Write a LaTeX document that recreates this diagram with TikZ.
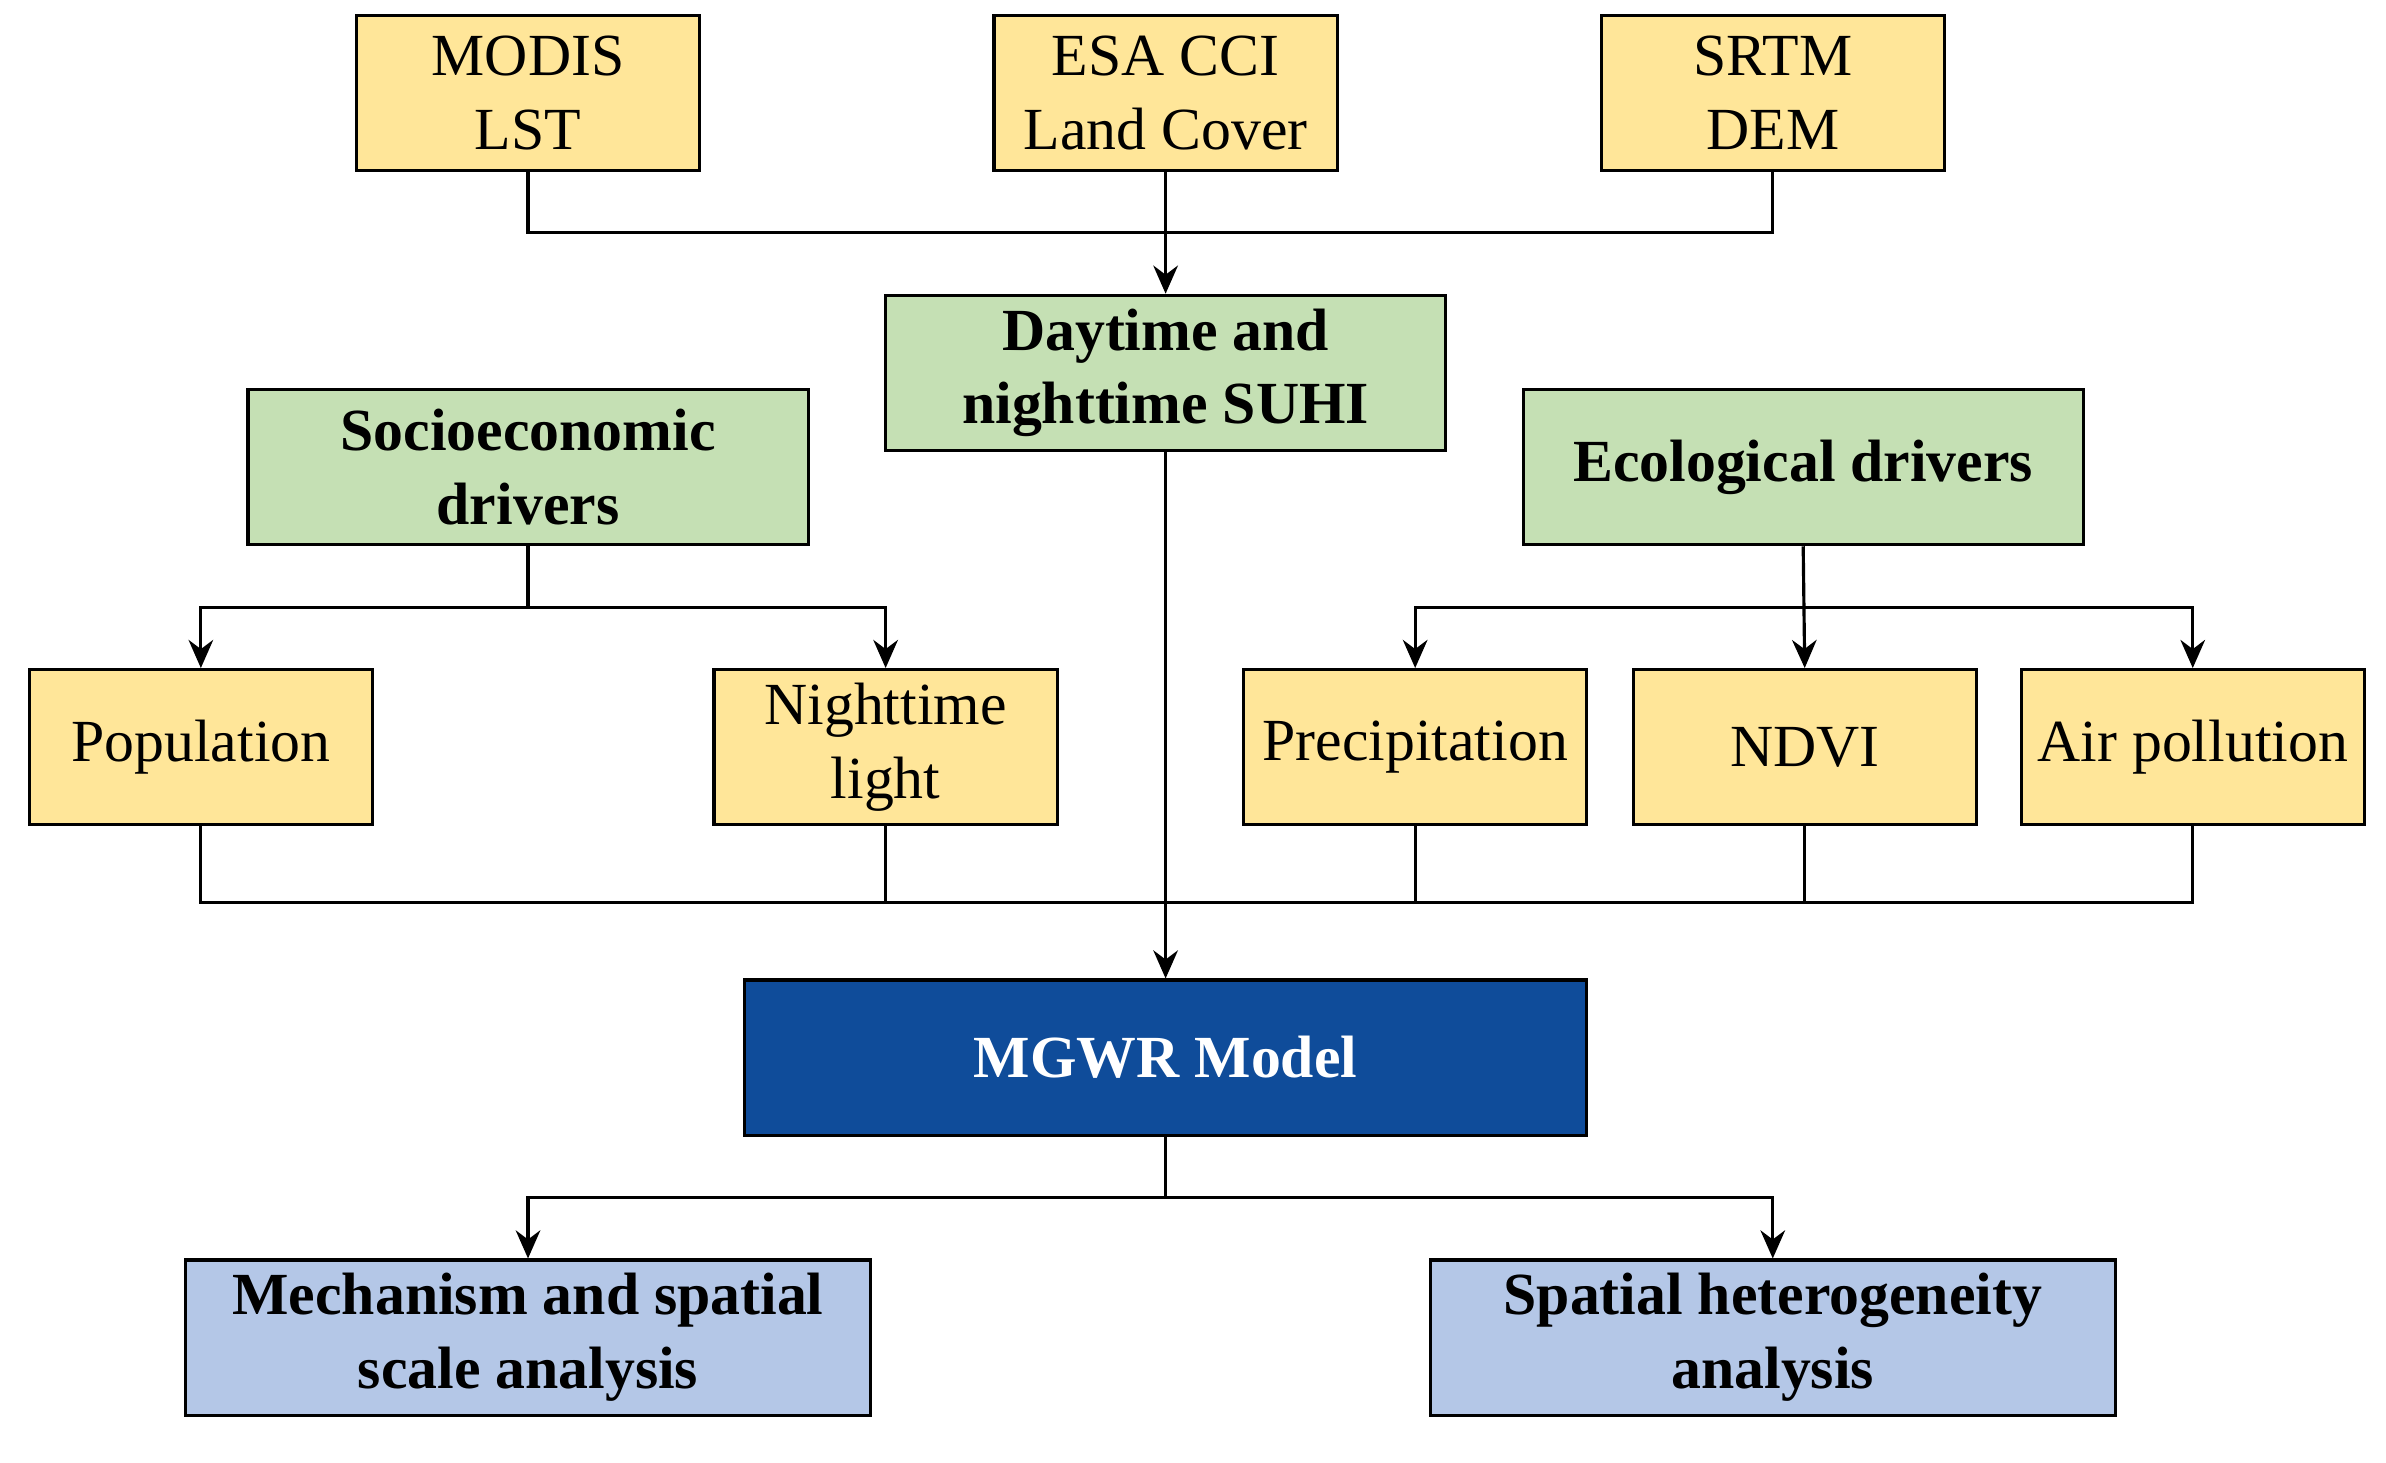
\documentclass[tikz,border=0pt]{standalone}
\usepackage{fontspec}
\setmainfont{Liberation Serif}
\usetikzlibrary{arrows.meta}
\definecolor{yel}{HTML}{FFE699}
\definecolor{grn}{HTML}{C5E0B4}
\definecolor{dblue}{HTML}{0F4C9A}
\definecolor{lblue}{HTML}{B4C7E7}
\begin{document}
\begin{tikzpicture}[x=0.01522cm,y=-0.01522cm,
 box/.style={draw=black,line width=0.9pt,align=center,inner sep=0pt,font=\fontsize{17}{21}\selectfont},
 ybox/.style={box,fill=yel,minimum width=3.43cm,minimum height=1.55cm},
 gbox/.style={box,fill=grn,minimum width=5.6cm,minimum height=1.55cm,font=\fontsize{17}{21}\selectfont\bfseries},
 bbox/.style={box,fill=lblue,minimum width=6.85cm,minimum height=1.55cm,font=\fontsize{17}{21}\selectfont\bfseries},
 ln/.style={line width=0.9pt},
 arr/.style={ln,-{Stealth[length=8pt,width=7pt]}}]
\useasboundingbox (0,0) rectangle (1568,961);
\node[ybox] (modis) at (347,61) {MODIS\\LST};
\node[ybox] (esa) at (766,61) {ESA CCI\\Land Cover};
\node[ybox] (srtm) at (1165,61) {SRTM\\DEM};
\node[gbox] (suhi) at (766,245) {Daytime and\\nighttime SUHI};
\node[gbox] (soc) at (347,307) {Socioeconomic\\drivers};
\node[gbox] (eco) at (1185,307) {Ecological drivers};
\node[ybox] (pop) at (132,491) {Population};
\node[ybox] (ntl) at (582,491) {Nighttime\\light};
\node[ybox] (pre) at (930,491) {Precipitation};
\node[ybox] (ndvi) at (1186,491) {NDVI};
\node[ybox] (air) at (1441,491) {Air pollution};
\node[box,fill=dblue,text=white,minimum width=8.42cm,minimum height=1.55cm,font=\fontsize{17}{21}\selectfont\bfseries] (mgwr) at (766,695) {MGWR Model};
\node[bbox] (mech) at (347,879) {Mechanism and spatial\\scale analysis};
\node[bbox] (het) at (1165,879) {Spatial heterogeneity\\analysis};
\coordinate (b1) at (766,153);
\coordinate (b2) at (347,399);
\coordinate (b3) at (1185,399);
\coordinate (b4) at (766,593);
\coordinate (b5) at (766,787);
\draw[ln] (modis.south) |- (b1) -| (srtm.south);
\draw[arr] (esa.south) -- (suhi.north);
\draw[ln] (soc.south) -- (b2);
\draw[arr] (b2) -| (pop.north);
\draw[arr] (b2) -| (ntl.north);
\draw[arr] (eco.south) -- (ndvi.north);
\draw[arr] (b3) -| (pre.north);
\draw[arr] (b3) -| (air.north);
\draw[ln] (pop.south) |- (b4) -| (air.south);
\draw[ln] (ntl.south) -- (ntl.south |- b4);
\draw[ln] (pre.south) -- (pre.south |- b4);
\draw[ln] (ndvi.south) -- (ndvi.south |- b4);
\draw[arr] (suhi.south) -- (mgwr.north);
\draw[ln] (mgwr.south) -- (b5);
\draw[arr] (b5) -| (mech.north);
\draw[arr] (b5) -| (het.north);
\end{tikzpicture}
\end{document}
